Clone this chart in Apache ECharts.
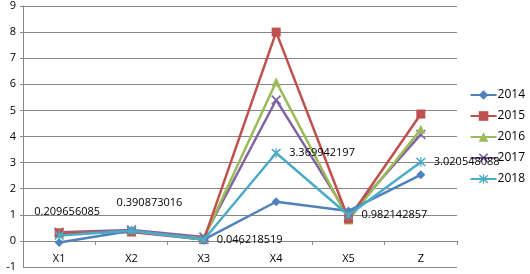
<!DOCTYPE html>
<html><head><meta charset="utf-8">
<script src="https://cdn.jsdelivr.net/npm/echarts@6/dist/echarts.min.js"></script>
<style>html,body{margin:0;padding:0;background:#fff}#c{width:530px;height:274px}</style>
</head><body><div id="c"></div>
<script>
const categories = ['X1','X2','X3','X4','X5','Z'];
const yTicks = [-1,0,1,2,3,4,5,6,7,8,9];
const s2014 = [-0.06, 0.39, 0.05, 1.5, 1.15, 2.53];
const s2015 = [0.31, 0.34, 0.05, 8.0, 0.84, 4.86];
const s2016 = [0.29, 0.36, 0.09, 6.1, 0.8, 4.28];
const s2017 = [0.33, 0.42, 0.15, 5.4, 0.95, 4.08];
const s2018 = [0.209656085, 0.390873016, 0.046218519, 3.369942197, 0.982142857, 3.020548088];
const seriesNames = ['2014','2015','2016','2017','2018'];

const FONT = 'Open Sans';
const colors = ['#4F81BD','#C0504D','#9BBB59','#8064A2','#4BACC6'];
const xPath = 'path://M0,1.2 L1.2,0 L5,3.8 L8.8,0 L10,1.2 L6.2,5 L10,8.8 L8.8,10 L5,6.2 L1.2,10 L0,8.8 L3.8,5 Z';
const starPath = 'path://M0,1.2 L1.2,0 L5,3.8 L8.8,0 L10,1.2 L6.2,5 L10,8.8 L8.8,10 L5,6.2 L1.2,10 L0,8.8 L3.8,5 Z M4.4,-0.5 L5.6,-0.5 L5.6,10.5 L4.4,10.5 Z';
const symbols = ['diamond','rect','triangle',xPath,starPath];
const sizes = [9,9,9,10,10];
const data = [s2014,s2015,s2016,s2017,s2018];

const labelFor = (i) => {
  if (i === 0) return {show:true, position:'top', offset:[8,-8]};
  if (i === 1) return {show:true, position:'top', offset:[18,-12]};
  return {show:true, position:'right', distance:8};
};

const series = seriesNames.map((n, k) => ({
  name: n,
  type: 'line',
  data: k === 4 ? data[k].map((v,i)=>({value:v, label: labelFor(i)})) : data[k],
  symbol: symbols[k],
  symbolSize: sizes[k],
  showAllSymbol: true,
  lineStyle: {width: 2.5, color: colors[k]},
  itemStyle: {color: colors[k]},
  label: k === 4 ? {show:true, fontFamily: FONT, fontSize: 11, color:'#000',
    formatter: p => String(p.value)} : {show:false},
  z: 10 - k + (k===4?5:0),
  animation: false
}));

const chart = echarts.init(document.getElementById('c'));
chart.setOption({
  animation: false,
  color: colors,
  grid: {left: 23, right: 73, top: 6, bottom: 7, containLabel: false,
         outerBoundsMode: 'auto', outerBounds: {left: -200, right: -200, top: -200, bottom: -200}},
  legend: {
    orient: 'vertical', right: 0, top: 84, itemGap: 9,
    itemWidth: 26, itemHeight: 12,
    textStyle: {fontFamily: FONT, fontSize: 12, color: '#000', padding:[0,0,0,-4]},
    data: seriesNames
  },
  xAxis: [{
    type: 'category', data: categories, boundaryGap: true, position: 'bottom',
    axisLine: {show: false, onZero: false},
    axisTick: {show: false},
    axisLabel: {show: true, interval: 0, fontFamily: FONT, fontSize: 11, color: '#000', margin: -14}
  }, {
    type: 'category', data: categories, boundaryGap: true, position: 'bottom',
    axisLine: {show: true, onZero: true, lineStyle: {color: '#868686', width: 1}},
    axisTick: {show: true, length: 4, lineStyle: {color: '#868686'}},
    axisLabel: {show: false}
  }],
  yAxis: {
    type: 'value', min: yTicks[0], max: yTicks[yTicks.length-1], interval: 1,
    name: String(yTicks[0]), nameLocation: 'start', nameGap: 0, nameMoveOverlap: false,
    nameTextStyle: {fontFamily: FONT, fontSize: 11, color: '#000', align: 'right', verticalAlign: 'middle', padding: [0, 7, 0, 0]},
    axisLine: {show: true, lineStyle: {color: '#868686'}},
    axisTick: {show: true, length: 3, lineStyle: {color: '#868686'}},
    splitLine: {lineStyle: {color: '#868686', width: 1}},
    axisLabel: {showMinLabel: false, showMaxLabel: true, fontFamily: FONT, fontSize: 11, color: '#000', margin: 7}
  },
  series
});
</script></body></html>
